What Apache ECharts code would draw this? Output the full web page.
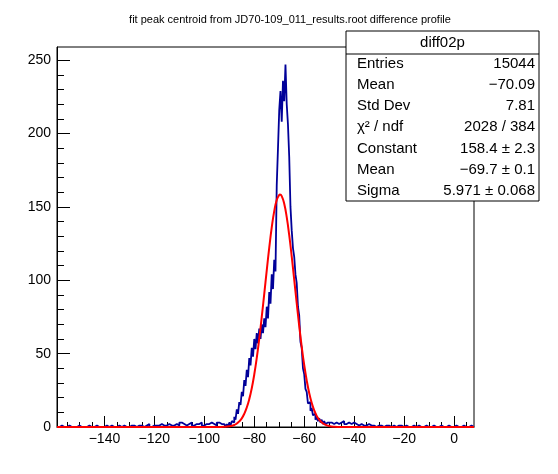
<!DOCTYPE html>
<html lang="en">
<head>
    <meta charset="UTF-8">
    <title>diff02p</title>
    <script src="https://cdn.jsdelivr.net/npm/echarts@6/dist/echarts.min.js"></script>
    <style>
        body { margin: 0; background: #fff; }
    </style>
</head>
<body>
<div id='box' style="width: 558px;height:474px;"></div>
<script>
    // histogram counts
    // left tail: 1-unit bins starting at -159
    var leftTail = [0, 1, 0, 0, 1, 0, 0, 0, 1, 0,
        0, 0, 1, 0, 0, 1, 0, 0, 0, 1,
        0, 1, 0, 0, 1, 0, 1, 0, 0, 1,
        1, 0, 1, 1, 0, 1, 2, 0, 1, 1,
        1, 2, 1, 1, 2, 1, 1, 2, 1, 3,
        2, 1, 2, 3, 1, 2, 2, 3, 1, 2,
        2, 3, 2, 1, 3, 2, 2];
    // core: 0.5-unit bins starting at -92
    var core = [1, 0, 2, 0, 3, 1, 4, 3, 7, 5,
        12, 9, 17, 15, 24, 21, 32, 28, 39, 34,
        47, 42, 54, 48, 60, 53, 64, 57, 67, 60,
        70, 64, 74, 68, 82, 74, 92, 84, 104, 94,
        114, 106, 165, 190, 216, 229, 208, 236, 222, 247,
        220, 206, 184, 150, 134, 122, 116, 104, 98, 82,
        76, 58, 54, 40, 36, 26, 24, 16, 17, 11,
        13, 8, 9, 5, 7, 4, 6, 3, 5, 2,
        4, 2, 3, 2];
    // right tail: 1-unit bins starting at -50
    var rightTail = [3, 2, 3, 2, 3, 4, 2, 3, 2, 3,
        2, 1, 2, 1, 1, 2, 1, 1, 0, 1,
        1, 0, 1, 1, 0, 1, 0, 1, 1, 0,
        1, 0, 0, 1, 0, 1, 0, 0, 1, 0,
        0, 1, 0, 0, 1, 0, 0, 1, 0, 0,
        1, 0, 0, 1, 0, 0, 1, 0];

    // gaussian fit curve
    var fitX = [-159, -100, -95, -92, -90, -88, -87, -86, -85, -84, -83, -82, -81, -80, -79, -78, -77, -76, -75, -74, -73, -72, -71, -70, -69.7,
        -69, -68, -67, -66, -65, -64, -63, -62, -61, -60, -59, -58, -57, -56, -55, -54, -53, -52, -50, -48, -45, 8];
    var fitY = [0, 0, 0.02, 0.15, 0.5, 1.4, 2.4, 3.8, 5.9, 9.0, 13.3, 19.0, 26.4, 35.8, 47.1, 60.3, 75.0, 90.8, 106.8, 122.2, 136.0, 147.1, 154.7, 158.2, 158.4,
        157.4, 152.1, 143.0, 130.7, 116.2, 100.4, 84.4, 69.0, 54.8, 42.3, 31.8, 23.2, 16.5, 11.4, 7.6, 5.0, 3.2, 2.0, 0.7, 0.2, 0.02, 0];

    var xMajor = [-140, -120, -100, -80, -60, -40, -20, 0];
    var yMajor = [0, 50, 100, 150, 200, 250];

    var statNames = ['Entries', 'Mean', 'Std Dev', 'χ² / ndf', 'Constant', 'Mean', 'Sigma'];
    var statValues = ['15044', '−70.09', '7.81', '2028 / 384', '158.4 ± 2.3', '−69.7 ± 0.1', '5.971 ± 0.068'];

    var xMin = -159, xMax = 8, yMax = 259;

    var xMinor = [];
    for (var v = -155; v <= 5; v += 5) xMinor.push(v);
    var yMinor = [];
    for (var w = 0; w <= 250; w += 10) yMinor.push(w);

    // step points
    var hist = [];
    function addBins(start, width, counts) {
        for (var i = 0; i < counts.length; i++) {
            hist.push([start + i * width, counts[i]]);
        }
    }
    addBins(-159, 1, leftTail);
    addBins(-92, 0.5, core);
    addBins(-50, 1, rightTail);
    hist.push([xMax, rightTail[rightTail.length - 1]]);

    var fit = fitX.map(function (x, i) { return [x, fitY[i]]; });

    var font = '"Liberation Sans", Arial, Helvetica, sans-serif';

    // stats box
    var bx = 346, by = 31, bw = 193, bh = 170;
    var graphics = [
        {type: 'rect', shape: {x: bx, y: by, width: bw, height: bh}, style: {fill: '#fff', stroke: '#000', lineWidth: 1}, z: 100},
        {type: 'line', shape: {x1: bx, y1: 54, x2: bx + bw, y2: 54}, style: {stroke: '#000', lineWidth: 1}, z: 101},
        {type: 'text', x: bx + bw / 2, y: 43, style: {text: 'diff02p', font: '15px ' + font, fill: '#000', align: 'center', verticalAlign: 'middle'}, z: 101}
    ];
    for (var k = 0; k < statNames.length; k++) {
        var ry = 64 + k * 21.1;
        graphics.push({type: 'text', x: 357, y: ry, style: {text: statNames[k], font: '15px ' + font, fill: '#000', align: 'left', verticalAlign: 'middle'}, z: 101});
        graphics.push({type: 'text', x: 535, y: ry, style: {text: statValues[k], font: '15px ' + font, fill: '#000', align: 'right', verticalAlign: 'middle'}, z: 101});
    }

    var myChart = echarts.init(document.getElementById('box'));
    var option = {
        animation: false,
        backgroundColor: '#fff',
        title: {
            text: 'fit peak centroid from JD70-109_011_results.root difference profile',
            left: 285,
            textAlign: 'center',
            top: 9,
            textStyle: {fontFamily: font, fontSize: 11, fontWeight: 'normal', color: '#000'}
        },
        grid: {
            left: 57, right: 84, top: 47, bottom: 47,
            show: true, borderColor: '#000', borderWidth: 1, backgroundColor: 'transparent'
        },
        xAxis: [
            {
                type: 'value', min: xMin, max: xMax,
                splitLine: {show: false},
                axisLine: {show: true, onZero: false, lineStyle: {color: '#000', width: 1}},
                axisTick: {show: true, inside: true, length: 11, customValues: xMajor, lineStyle: {color: '#000'}},
                axisLabel: {
                    customValues: xMajor, margin: 5, color: '#000', fontFamily: font, fontSize: 14,
                    formatter: function (value) { return String(value).replace('-', '−'); }
                }
            },
            {
                type: 'value', min: xMin, max: xMax, position: 'bottom',
                splitLine: {show: false},
                axisLine: {show: false, onZero: false},
                axisTick: {show: true, inside: true, length: 5, customValues: xMinor, lineStyle: {color: '#000'}},
                axisLabel: {show: false}
            }
        ],
        yAxis: [
            {
                type: 'value', min: 0, max: yMax, position: 'left',
                splitLine: {show: false},
                axisLine: {show: true, onZero: false, lineStyle: {color: '#000', width: 1}},
                axisTick: {show: true, inside: true, length: 13, customValues: yMajor, lineStyle: {color: '#000'}},
                axisLabel: {customValues: yMajor, margin: 6, color: '#000', fontFamily: font, fontSize: 14}
            },
            {
                type: 'value', min: 0, max: yMax, position: 'left',
                splitLine: {show: false},
                axisLine: {show: false, onZero: false},
                axisTick: {show: true, inside: true, length: 7, customValues: yMinor, lineStyle: {color: '#000'}},
                axisLabel: {show: false}
            }
        ],
        graphic: graphics,
        series: [
            {
                name: 'diff02p',
                type: 'line',
                step: 'end',
                symbol: 'none',
                data: hist,
                lineStyle: {color: '#000099', width: 1.8}
            },
            {
                name: 'gaus',
                type: 'line',
                smooth: true,
                symbol: 'none',
                data: fit,
                lineStyle: {color: '#ff0000', width: 2}
            }
        ]
    };
    myChart.setOption(option);
</script>
</body>
</html>
